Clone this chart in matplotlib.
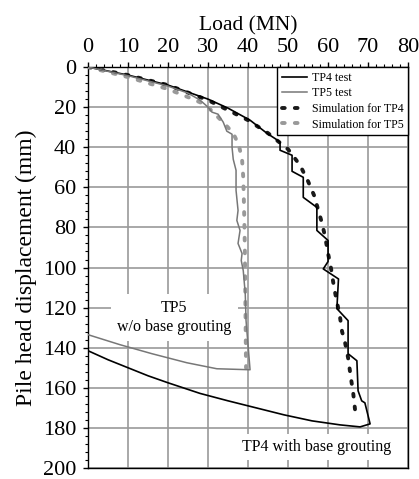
import matplotlib
matplotlib.use("Agg")
import matplotlib.pyplot as plt
from matplotlib.ticker import MultipleLocator

plt.rcParams['font.family'] = ['Liberation Serif', 'DejaVu Serif']

# ---- data (Load MN, displacement mm) ----
tp4_load = [0, 10, 20, 30, 35, 40.5, 44.7, 47, 48, 48, 51, 51, 53.8, 53.8, 57.2, 57.2, 60, 60,
            58.8, 62.6, 62.2, 65, 65, 67.2, 67.5, 68.4, 69.2, 70.5,
            68, 63, 56, 49, 42, 35, 28, 20, 15, 10, 5, 0]
tp4_disp = [0, 4, 9, 16, 20.5, 26.5, 33, 36, 37.5, 41.5, 44, 52, 55, 65, 70, 81.5, 86.5, 97,
            100.7, 105.7, 120.5, 126.5, 143, 146.5, 161.5, 166.5, 167.5, 178,
            179.5, 178.5, 176.5, 173.5, 170, 166.5, 162.8, 157.5, 154, 150, 146, 141.5]

tp5_load = [0, 10, 20, 25, 28, 30, 31, 32.5, 33.8, 34.7, 36, 36, 36.3, 37, 37, 37.5, 37.2, 38,
            37.5, 38.5, 38.3, 38.8, 39.3, 39.5, 40.5,
            32.2, 24.7, 16, 8, 0]
tp5_disp = [0, 4.3, 9.5, 13, 16.5, 20, 22.5, 23.5, 27.5, 32, 33.5, 40, 46, 51.5, 61.5, 71.5, 76.5, 81.5,
            88, 93, 96.5, 101.5, 113, 126.5, 151,
            150.5, 147.5, 143, 138.5, 133.5]

sim4_load = [0, 10, 20, 30, 40, 45, 50, 53, 55, 56.5, 57.5, 58.5, 59.3, 60, 60.7, 61.5, 62.3,
             63, 63.5, 64.2, 65, 65.7, 66.3, 66.8]
sim4_disp = [0, 4, 9, 16.5, 26.5, 33, 41, 49, 57, 64, 71, 78, 85, 93, 100, 110, 118,
             125, 132, 137, 145, 155, 163, 172]

sim5_load = [0, 5, 10, 15, 20, 25, 28.5, 30, 31.5, 34, 36.3, 37.7, 38.5, 38.8, 39, 39.2, 39.3,
             39.4, 39.5]
sim5_disp = [0, 2.5, 5, 8, 11, 15, 18, 20, 23, 28, 33, 39, 46, 55, 70, 90, 110, 130, 150]

x_ticks = [0, 10, 20, 30, 40, 50, 60, 70, 80]
y_ticks = [0, 20, 40, 60, 80, 100, 120, 140, 160, 180, 200]

fig = plt.figure(figsize=(4.19, 4.79), dpi=100)
ax = fig.add_axes([0.210, 0.023, 0.764, 0.837])

dash = (0, (0.7, 2.6))
ax.plot(tp4_load, tp4_disp, color='black', lw=1.2, label='TP4 test', zorder=4)
ax.plot(tp5_load, tp5_disp, color='#777777', lw=1.1, label='TP5 test', zorder=4)
ax.plot(sim4_load, sim4_disp, color='#1a1a1a', lw=2.8, ls=dash, dash_capstyle='round',
        label='Simulation for TP4', zorder=3)
ax.plot(sim5_load, sim5_disp, color='#999999', lw=2.8, ls=dash, dash_capstyle='round',
        label='Simulation for TP5', zorder=3)

ax.set_xlim(0, 80)
ax.set_ylim(200, 0)
ax.set_xticks(x_ticks)
ax.set_yticks(y_ticks)
ax.xaxis.set_minor_locator(MultipleLocator(2))
ax.yaxis.set_minor_locator(MultipleLocator(4))
ax.xaxis.tick_top()
ax.xaxis.set_label_position('top')
ax.tick_params(axis='both', which='both', direction='out', labelsize=16,
               top=True, bottom=False, left=True, right=False)
ax.tick_params(which='major', length=3.5, width=1)
ax.tick_params(which='minor', length=2.2, width=0.8)
ax.tick_params(axis='x', pad=4)
ax.tick_params(axis='y', pad=5)
ax.set_axisbelow(True)
ax.grid(True, which='major', color='#9a9a9a', lw=1.2)
for s in ax.spines.values():
    s.set_linewidth(1.0)

ax.set_xlabel('Load (MN)', fontsize=15.5, labelpad=5)
ax.set_ylabel('Pile head displacement (mm)', fontsize=17, labelpad=4)

ax.text(21.5, 125, 'TP5\nw/o base grouting', ha='center', va='center', fontsize=11.5,
        linespacing=1.2, zorder=2,
        bbox=dict(boxstyle='square,pad=0.4', fc='white', ec='none'))
ax.text(57.2, 189.5, 'TP4 with base grouting', ha='center', va='center', fontsize=11.5,
        zorder=2, bbox=dict(boxstyle='square,pad=0.3', fc='white', ec='none'))

leg = ax.legend(loc='upper right', fontsize=8.6, frameon=True, fancybox=False,
                borderaxespad=0, handlelength=2.1, handletextpad=0.4,
                labelspacing=0.3, borderpad=0.4)
leg.get_frame().set_edgecolor('black')
leg.get_frame().set_linewidth(1.0)
leg.get_frame().set_alpha(1)

fig.savefig('out.png', dpi=100)
